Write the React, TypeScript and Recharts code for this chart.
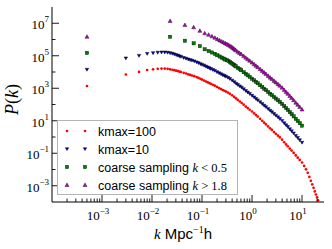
import React from 'react';
import { ScatterChart, Scatter, XAxis, YAxis, Legend } from 'recharts';

// ---------- data ----------
const K_FINE = [
  0.0005, 0.003, 0.0055, 0.008, 0.0105, 0.013, 0.0155, 0.018, 0.0205, 0.023,
  0.0255, 0.028, 0.0305, 0.033, 0.0355, 0.038, 0.043, 0.048, 0.053, 0.058,
  0.063, 0.07, 0.078, 0.085, 0.093, 0.1, 0.11, 0.12, 0.13, 0.14,
  0.15, 0.165, 0.18, 0.2, 0.22, 0.24, 0.26, 0.28, 0.3, 0.33,
  0.36, 0.4, 0.44, 0.48, 0.52, 0.57, 0.62, 0.68, 0.75, 0.82,
  0.9, 1.0, 1.1, 1.2, 1.3, 1.45, 1.6, 1.75, 1.9, 2.1,
  2.3, 2.5, 2.75, 3.0, 3.3, 3.6, 4.0, 4.4, 4.8, 5.2,
  5.7, 6.2, 6.8, 7.5, 8.2, 9.0, 10,
];
const P_KMAX10 = [
  1.4e4, 7.0e4, 1.01e5, 1.33e5, 1.47e5, 1.57e5, 1.62e5, 1.62e5, 1.57e5, 1.47e5,
  1.35e5, 1.24e5, 1.12e5, 1.03e5, 9.4e4, 8.7e4, 7.5e4, 6.7e4, 6.0e4, 5.5e4,
  5.1e4, 4.6e4, 4.0e4, 3.6e4, 3.1e4, 2.8e4, 2.5e4, 2.17e4, 1.94e4, 1.73e4,
  1.57e4, 1.36e4, 1.2e4, 9.96e3, 8.5e3, 7.4e3, 6.5e3, 5.8e3, 5.2e3, 4.5e3,
  3.8e3, 3.03e3, 2.42e3, 1.95e3, 1.63e3, 1.33e3, 1.11e3, 885, 697, 563,
  455, 353, 281, 224, 184, 141, 109, 85.8, 70.3, 53.7,
  42.3, 34.2, 26.5, 21.1, 16.6, 13.2, 10.0, 7.2, 5.4, 4.2,
  3.08, 2.32, 1.7, 1.19, 0.89, 0.65, 0.456,
];
const K_RED_TAIL = [11, 12, 13, 14, 15, 16, 17, 18, 19, 20, 21];
const P_KMAX100 = [
  1.38e3, 7.0e3, 1.01e4, 1.33e4, 1.47e4, 1.57e4, 1.62e4, 1.62e4, 1.57e4, 1.47e4,
  1.38e4, 1.29e4, 1.2e4, 1.13e4, 1.06e4, 9.98e3, 8.85e3, 8.1e3, 7.2e3, 6.6e3,
  6.1e3, 5.5e3, 4.9e3, 4.3e3, 3.8e3, 3.4e3, 2.96e3, 2.6e3, 2.33e3, 2.08e3,
  1.88e3, 1.63e3, 1.44e3, 1.2e3, 1.03e3, 890, 783, 700, 625, 542,
  457, 365, 291, 235, 191, 153, 124, 97, 74.6, 60.3,
  47.6, 37, 28.8, 22.4, 18, 13.1, 9.95, 7.64, 5.98, 4.47,
  3.44, 2.72, 2.01, 1.57, 1.2, 0.94, 0.68, 0.475, 0.35, 0.27,
  0.195, 0.147, 0.105, 0.0736, 0.0535, 0.039, 0.0269,
  0.0166, 0.0102, 0.0062, 0.0035, 0.002, 0.0012, 7.4e-4, 4.5e-4, 2.9e-4, 1.9e-4, 1.25e-4,
];
const K_COARSE = [
  0.0005, 0.023, 0.0455, 0.068, 0.0905, 0.113, 0.1355, 0.158, 0.1805, 0.203,
  0.2255, 0.248, 0.2705, 0.293, 0.3155, 0.338, 0.3605, 0.383, 0.4055, 0.428,
  0.4505, 0.473, 0.518, 0.563, 0.608, 0.68, 0.75, 0.82, 0.9, 1.0,
  1.1, 1.2, 1.3, 1.45, 1.6, 1.75, 1.9, 2.1, 2.3, 2.5,
  2.75, 3.0, 3.3, 3.6, 4.0, 4.4, 4.8, 5.2, 5.7, 6.2,
  6.8, 7.5, 8.2, 9.0, 10,
];
const P_COARSE_LOW = [
  1.5e5, 1.47e6, 8.4e5, 5.8e5, 3.9e5, 2.5e5, 1.95e5, 1.59e5, 1.31e5, 1.07e5,
  8.97e4, 7.7e4, 6.7e4, 5.85e4, 5.3e4, 4.7e4, 4.16e4, 3.66e4, 3.23e4, 2.84e4,
  2.51e4, 2.22e4, 1.8e4, 1.51e4, 1.28e4, 9.7e3, 7.6e3, 6.2e3, 4.99e3, 3.87e3,
  3.08e3, 2.46e3, 2.02e3, 1.54e3, 1.2e3, 940, 771, 589, 463, 375,
  290, 232, 182, 145, 110, 79, 60, 46, 33.8, 25.5,
  18.6, 13.1, 9.7, 7.1, 5.0,
];
const P_COARSE_HIGH = [
  1.47e6, 1.36e7, 7.7e6, 5.6e6, 3.4e6, 2.4e6, 1.95e6, 1.56e6, 1.28e6, 1.04e6,
  8.77e5, 7.5e5, 6.6e5, 5.7e5, 5.2e5, 4.6e5, 4.06e5, 3.58e5, 3.16e5, 2.77e5,
  2.45e5, 2.17e5, 1.76e5, 1.47e5, 1.25e5, 9.5e4, 7.5e4, 6.0e4, 4.9e4, 3.78e4,
  3.0e4, 2.4e4, 1.97e4, 1.5e4, 1.17e4, 9.2e3, 7.5e3, 5.75e3, 4.5e3, 3.66e3,
  2.84e3, 2.26e3, 1.78e3, 1.42e3, 1.07e3, 771, 582, 451, 330, 249,
  182, 128, 95, 70, 48.9,
];

const SERIES_LABELS = ['kmax=100', 'kmax=10', 'coarse sampling ', 'coarse sampling '];
const SERIES_MATH = ['', '', ' < 0.5', ' > 1.8'];

const X_DOMAIN = [1e-4, 27.5];
const Y_DOMAIN = [1e-4, 1e8];
const X_MAJOR = [1e-3, 1e-2, 1e-1, 1, 10];
const X_MAJOR_EXP = ['\u22123', '\u22122', '\u22121', '0', '1'];
const X_DECADES = [1e-4, 1e-3, 1e-2, 1e-1, 1, 10];
const X_MINOR_MULT = [2, 3, 4, 5, 6, 7, 8, 9];
const Y_TICKS = [1e-3, 1e-2, 1e-1, 1, 1e1, 1e2, 1e3, 1e4, 1e5, 1e6, 1e7];
const Y_LABELED = [1e-3, 1e-1, 1e1, 1e3, 1e5, 1e7];
const Y_LABEL_EXP = ['\u22123', '\u22121', '1', '3', '5', '7'];

// ---------- helpers ----------
const SERIF = "'Liberation Serif', 'DejaVu Serif', serif";
const SANS = "'Liberation Sans', Arial, sans-serif";

const zip = (ks: number[], ps: number[]) => ks.map((k, i) => ({ k, p: ps[i] }));
const redData = zip([...K_FINE, ...K_RED_TAIL], P_KMAX100);
const blueData = zip(K_FINE, P_KMAX10);
const greenData = zip(K_COARSE, P_COARSE_LOW);
const purpleData = zip(K_COARSE, P_COARSE_HIGH);

const xTicks: number[] = [];
X_DECADES.forEach((d) => {
  if (d >= 1e-3) xTicks.push(d);
  X_MINOR_MULT.forEach((m) => {
    const v = d * m;
    if (v < X_DOMAIN[1]) xTicks.push(v);
  });
});
xTicks.sort((a, b) => a - b);

const near = (a: number, b: number) => Math.abs(a - b) / b < 1e-6;
const idxIn = (arr: number[], v: number) => arr.findIndex((t) => near(v, t));

const MAJOR = 7;
const MINOR = 3.5;

const BottomTick = (props: any) => {
  const { x, y, payload } = props;
  const i = idxIn(X_MAJOR, payload.value);
  return (
    <g>
      <line x1={x} x2={x} y1={y} y2={y - (i >= 0 ? MAJOR : MINOR)} stroke="#000" strokeWidth={0.9} />
      {i >= 0 && (
        <text x={x - 4} y={y + 18} textAnchor="middle" fontFamily={SERIF} fontSize={13} fill="#000">
          10<tspan dy={-6} fontSize={9}>{X_MAJOR_EXP[i]}</tspan>
        </text>
      )}
    </g>
  );
};
const TopTick = (props: any) => {
  const { x, y, payload } = props;
  const i = idxIn(X_MAJOR, payload.value);
  return <line x1={x} x2={x} y1={y} y2={y + (i >= 0 ? MAJOR : MINOR)} stroke="#000" strokeWidth={0.9} />;
};
const LeftTick = (props: any) => {
  const { x, y, payload } = props;
  const i = idxIn(Y_LABELED, payload.value);
  return (
    <g>
      <line x1={x} x2={x + (i >= 0 ? MAJOR : MINOR)} y1={y} y2={y} stroke="#000" strokeWidth={0.9} />
      {i >= 0 && (
        <text x={x - 3} y={y + 6} textAnchor="end" fontFamily={SERIF} fontSize={13} fill="#000">
          10<tspan dy={-7} fontSize={9}>{Y_LABEL_EXP[i]}</tspan>
        </text>
      )}
    </g>
  );
};
const RightTick = (props: any) => {
  const { x, y, payload } = props;
  const i = idxIn(Y_LABELED, payload.value);
  return <line x1={x} x2={x - (i >= 0 ? MAJOR : MINOR)} y1={y} y2={y} stroke="#000" strokeWidth={0.9} />;
};

// ---------- markers ----------
const RED = '#ff0000';
const BLUE = '#0000d8';
const GREEN = '#008000';
const PURPLE = '#bf00bf';

const Marker = ({ kind, cx, cy }: { kind: number; cx: number; cy: number }) => {
  if (kind === 0) return <circle cx={cx} cy={cy} r={1.35} fill={RED} />;
  if (kind === 1)
    return (
      <polygon
        points={`${cx - 1.7},${cy - 1.3} ${cx + 1.7},${cy - 1.3} ${cx},${cy + 1.6}`}
        fill={BLUE}
        stroke="#000"
        strokeWidth={0.5}
      />
    );
  if (kind === 2)
    return <rect x={cx - 1.6} y={cy - 1.6} width={3.2} height={3.2} fill={GREEN} stroke="#000" strokeWidth={0.4} />;
  return (
    <polygon
      points={`${cx},${cy - 2.1} ${cx - 2},${cy + 1.5} ${cx + 2},${cy + 1.5}`}
      fill={PURPLE}
      stroke="#000"
      strokeWidth={0.4}
    />
  );
};
const shapeFor = (kind: number) => (props: any) => <Marker kind={kind} cx={props.cx} cy={props.cy} />;

// ---------- legend ----------
const LegendBox = () => (
  <svg width={182} height={76} style={{ display: 'block' }}>
    <rect x={0.5} y={0.5} width={180} height={74} fill="#fff" stroke="#b4b4b4" strokeWidth={1} />
    {SERIES_LABELS.map((lab, i) => {
      const cy = 11 + i * 18;
      return (
        <g key={i}>
          <Marker kind={i} cx={10} cy={cy} />
          <Marker kind={i} cx={28} cy={cy} />
          <text x={41} y={cy + 4.5} fontFamily={SANS} fontSize={12.5} fill="#000">
            {lab}
            {SERIES_MATH[i] && (
              <>
                <tspan fontFamily={SERIF} fontStyle="italic">k</tspan>
                <tspan fontFamily={SERIF}>{SERIES_MATH[i]}</tspan>
              </>
            )}
          </text>
        </g>
      );
    })}
  </svg>
);

const XLabel = (props: any) => {
  const vb = props.viewBox || { x: 52, y: 202, width: 272, height: 47 };
  return (
    <text x={vb.x + vb.width / 2 - 5} y={vb.y + 37} textAnchor="middle" fontSize={15} fill="#000">
      <tspan fontFamily={SERIF} fontStyle="italic">k</tspan>
      <tspan fontFamily={SANS}> Mpc</tspan>
      <tspan fontFamily={SERIF} fontSize={10} dy={-6}>{'\u22121'}</tspan>
      <tspan fontFamily={SANS} dy={6}>h</tspan>
    </text>
  );
};
const YLabel = (props: any) => {
  const vb = props.viewBox || { x: 0, y: 7, width: 52, height: 195 };
  const cx = 18;
  const cy = vb.y + vb.height / 2 - 5;
  return (
    <text x={cx} y={cy} transform={`rotate(-90, ${cx}, ${cy})`} textAnchor="middle" fontFamily={SERIF} fontSize={18} fill="#000">
      <tspan fontStyle="italic">P</tspan>(<tspan fontStyle="italic">k</tspan>)
    </text>
  );
};

export default function App() {
  return (
    <div style={{ position: 'absolute', left: 0, top: 0, width: 332, height: 249, background: '#fff' }}>
      <ScatterChart width={332} height={249} margin={{ top: 7, right: 8, bottom: 0, left: 0 }}>
        <XAxis
          xAxisId="b"
          dataKey="k"
          type="number"
          scale="log"
          domain={X_DOMAIN}
          allowDataOverflow
          ticks={xTicks}
          interval={0}
          tick={BottomTick}
          tickLine={false}
          tickSize={0}
          tickMargin={0}
          axisLine={{ stroke: '#000', strokeWidth: 1 }}
          height={47}
          orientation="bottom"
          label={XLabel}
        />
        <XAxis
          xAxisId="t"
          dataKey="k"
          type="number"
          scale="log"
          domain={X_DOMAIN}
          allowDataOverflow
          ticks={xTicks}
          interval={0}
          tick={TopTick}
          tickLine={false}
          tickSize={0}
          tickMargin={0}
          axisLine={{ stroke: '#000', strokeWidth: 1 }}
          height={0}
          orientation="top"
        />
        <YAxis
          yAxisId="l"
          dataKey="p"
          type="number"
          scale="log"
          domain={Y_DOMAIN}
          allowDataOverflow
          ticks={Y_TICKS}
          interval={0}
          tick={LeftTick}
          tickLine={false}
          tickSize={0}
          tickMargin={0}
          axisLine={{ stroke: '#000', strokeWidth: 1 }}
          width={52}
          orientation="left"
          label={YLabel}
        />
        <YAxis
          yAxisId="r"
          dataKey="p"
          type="number"
          scale="log"
          domain={Y_DOMAIN}
          allowDataOverflow
          ticks={Y_TICKS}
          interval={0}
          tick={RightTick}
          tickLine={false}
          tickSize={0}
          tickMargin={0}
          axisLine={{ stroke: '#000', strokeWidth: 1 }}
          width={0}
          orientation="right"
        />
        <Scatter name={SERIES_LABELS[0]} data={redData} xAxisId="b" yAxisId="l" shape={shapeFor(0)} isAnimationActive={false} />
        <Scatter name={SERIES_LABELS[1]} data={blueData} xAxisId="b" yAxisId="l" shape={shapeFor(1)} isAnimationActive={false} />
        <Scatter name={SERIES_LABELS[2]} data={greenData} xAxisId="b" yAxisId="l" shape={shapeFor(2)} isAnimationActive={false} />
        <Scatter name={SERIES_LABELS[3]} data={purpleData} xAxisId="b" yAxisId="l" shape={shapeFor(3)} isAnimationActive={false} />
        <Legend
          layout="vertical"
          align="center"
          verticalAlign="middle"
          content={LegendBox}
          wrapperStyle={{ left: 57, top: 120, width: 182, height: 76, margin: 0, padding: 0 }}
        />
      </ScatterChart>
    </div>
  );
}
